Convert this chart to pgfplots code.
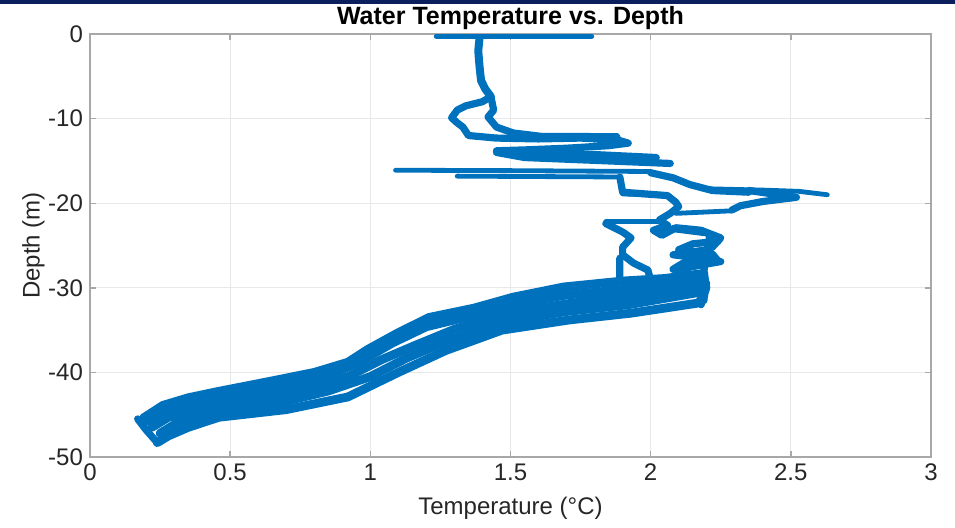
\documentclass[border=0pt]{standalone}
\usepackage{fontspec}
\setmainfont{Liberation Sans}
\usepackage{pgfplots}
\pgfplotsset{compat=1.18}
\definecolor{mblue}{HTML}{0072BD}
\definecolor{navy}{HTML}{0B1F5C}
\definecolor{axgray}{HTML}{A8A8A8}
\definecolor{tickcol}{HTML}{262626}
\pgfplotsset{
  thick trace/.style={mblue, line width=3.6pt, line join=round, line cap=round, no marks},
  band trace/.style={mblue, line width=4.4pt, line join=round, line cap=round, no marks},
  stem trace/.style={mblue, line width=4pt, line join=round, line cap=round, no marks},
  thin trace/.style={mblue, line width=2.4pt, line join=round, line cap=round, no marks},
  every axis title/.style={at={(0.5,1)}, anchor=base, yshift=5pt, font=\fontsize{12.5}{14}\selectfont},
}
\begin{document}
\begin{tikzpicture}
\begin{axis}[
  at={(45pt,35pt)}, anchor=south west,
  scale only axis, width=420.5pt, height=211.5pt,
  xmin=0, xmax=3, ymin=-50, ymax=0,
  xtick={0,0.5,1,1.5,2,2.5,3}, ytick={-50,-40,-30,-20,-10,0},
  grid=major, major grid style={color=black!9, line width=0.5pt},
  axis line style={axgray, line width=0.7pt},
  tick style={axgray, line width=0.7pt}, tick align=inside, major tick length=3pt,
  ticklabel style={font=\fontsize{12}{14}\selectfont, text=tickcol},
  /pgf/number format/assume math mode=true,
  title={\textbf{Water Temperature vs. Depth}},
  xlabel={Temperature (°C)}, ylabel={Depth (m)},
  ylabel shift=-5pt, xlabel shift=1pt,
  label style={font=\fontsize{12}{14}\selectfont, text=tickcol},
  clip=true,
]
% surface row and thin sparse rows
\addplot[thin trace] coordinates {(1.235,-0.25) (1.79,-0.25)};
\addplot[thin trace] coordinates {(1.09,-16.1) (1.50,-16.15) (2.00,-16.25)};
\addplot[thin trace] coordinates {(1.31,-16.8) (1.89,-16.9)};
\addplot[thin trace] coordinates {(1.55,-12.0) (1.88,-12.0)};
\addplot[thin trace] coordinates {(2.29,-20.9) (2.09,-21.2)};
\addplot[thin trace] coordinates {(1.84,-22.2) (2.03,-22.2)};
\addplot[thin trace] coordinates {(1.90,-18.9) (2.06,-19.1)};
\addplot[thin trace] coordinates {(2.21,-18.3) (2.40,-18.45) (2.53,-18.6) (2.63,-19.0)};
% stem
\addplot[stem trace] coordinates {(1.39,-0.3) (1.385,-2) (1.39,-4) (1.395,-5.5) (1.41,-6.5) (1.43,-7.4)};
% upper wiggles
\addplot[thick trace] coordinates {(1.43,-7.4) (1.40,-8.0) (1.34,-8.5) (1.31,-9.0) (1.29,-9.9) (1.31,-10.5) (1.33,-11.0) (1.35,-12.0) (1.45,-12.3) (1.60,-12.4) (1.75,-12.3) (1.88,-12.5) (1.92,-12.9) (1.85,-13.2) (1.70,-13.5) (1.55,-13.7) (1.45,-13.8)};
\addplot[thick trace] coordinates {(1.43,-7.4) (1.44,-9.0) (1.42,-9.8) (1.45,-11.0) (1.51,-11.7) (1.61,-12.1) (1.75,-12.1) (1.88,-12.2)};
\addplot[thick trace] coordinates {(1.45,-14.0) (1.55,-14.6) (1.70,-14.8) (1.85,-15.0) (2.07,-15.3)};
\addplot[thick trace] coordinates {(1.55,-14.3) (1.80,-14.25) (2.02,-14.6)};
\addplot[thick trace] coordinates {(2.00,-16.4) (2.08,-17.0) (2.14,-17.8) (2.22,-18.5) (2.35,-18.7)};
% middle profiles
\addplot[thick trace] coordinates {(1.89,-16.9) (1.90,-18.7) (2.06,-19.1) (2.09,-19.9) (2.10,-20.4) (2.07,-21.2) (2.03,-22.0) (2.06,-22.6) (2.01,-23.2) (2.04,-23.8) (2.09,-22.9) (2.18,-23.2) (2.25,-24.1) (2.22,-25.2) (2.20,-25.5) (2.08,-26.1) (2.18,-26.5) (2.25,-26.9) (2.18,-27.3) (2.12,-27.7) (2.10,-28.7) (2.17,-29.4) (2.19,-30.6) (2.19,-31.5)};
\addplot[thick trace] coordinates {(2.08,-23.0) (2.20,-23.5) (2.24,-24.5) (2.15,-24.8) (2.10,-25.5) (2.22,-26.0) (2.24,-26.8) (2.12,-27.0) (2.08,-27.8) (2.15,-28.5) (2.20,-29.5)};
\addplot[thick trace] coordinates {(2.21,-24.0) (2.20,-26.0) (2.19,-28.0) (2.20,-30.0) (2.18,-32.0)};
\addplot[thick trace] coordinates {(2.35,-18.5) (2.52,-19.3) (2.40,-19.8) (2.32,-20.3) (2.29,-20.8)};
\addplot[thick trace] coordinates {(1.84,-22.4) (1.90,-23.4) (1.93,-24.1) (1.90,-25.2) (1.90,-26.1) (1.94,-27.1) (1.99,-27.9) (2.00,-29.1) (1.94,-29.9) (1.87,-30.6)};
\addplot[thick trace] coordinates {(1.89,-26.5) (1.89,-29.1) (1.95,-29.6) (2.05,-29.0)};
% lower band
\addplot[band trace] coordinates {(2.19,-28.3) (2.05,-28.9) (1.90,-29.2) (1.69,-29.9) (1.51,-31.1) (1.37,-32.4) (1.21,-33.5) (1.10,-35.3) (0.99,-37.3) (0.92,-38.8) (0.80,-40.0) (0.65,-41.0) (0.45,-42.3) (0.35,-43.0) (0.26,-43.9) (0.19,-45.4)};
\addplot[band trace] coordinates {(2.18,-29.0) (1.90,-30.2) (1.69,-30.9) (1.50,-32.0) (1.35,-33.4) (1.20,-34.6) (1.08,-36.5) (0.97,-38.6) (0.85,-40.4) (0.65,-42.0) (0.45,-43.2) (0.30,-44.3) (0.20,-45.8)};
\addplot[band trace] coordinates {(2.19,-29.8) (1.92,-31.0) (1.70,-31.9) (1.49,-33.0) (1.30,-34.9) (1.16,-36.8) (1.04,-38.5) (0.92,-40.5) (0.78,-42.0) (0.60,-43.2) (0.42,-44.3) (0.28,-45.3) (0.22,-46.5)};
\addplot[band trace] coordinates {(2.18,-30.5) (1.92,-32.0) (1.70,-32.8) (1.48,-34.0) (1.28,-36.2) (1.13,-38.3) (1.00,-40.5) (0.85,-42.2) (0.65,-43.8) (0.45,-44.8) (0.32,-45.8) (0.25,-47.2)};
\addplot[band trace] coordinates {(2.19,-31.0) (2.17,-31.8) (1.93,-33.0) (1.71,-33.8) (1.47,-35.0) (1.27,-37.4) (1.10,-40.0) (0.92,-42.9) (0.70,-44.4) (0.46,-45.3) (0.35,-46.5) (0.28,-47.5) (0.24,-48.3)};
\addplot[thick trace] coordinates {(0.17,-45.5) (0.20,-46.8) (0.24,-48.3)};
\end{axis}
\pgfresetboundingbox
\path[use as bounding box] (0,0) rectangle (477.5pt,263.5pt);
\fill[navy] (0,261.7pt) rectangle (477.5pt,263.5pt);
\end{tikzpicture}
\end{document}
